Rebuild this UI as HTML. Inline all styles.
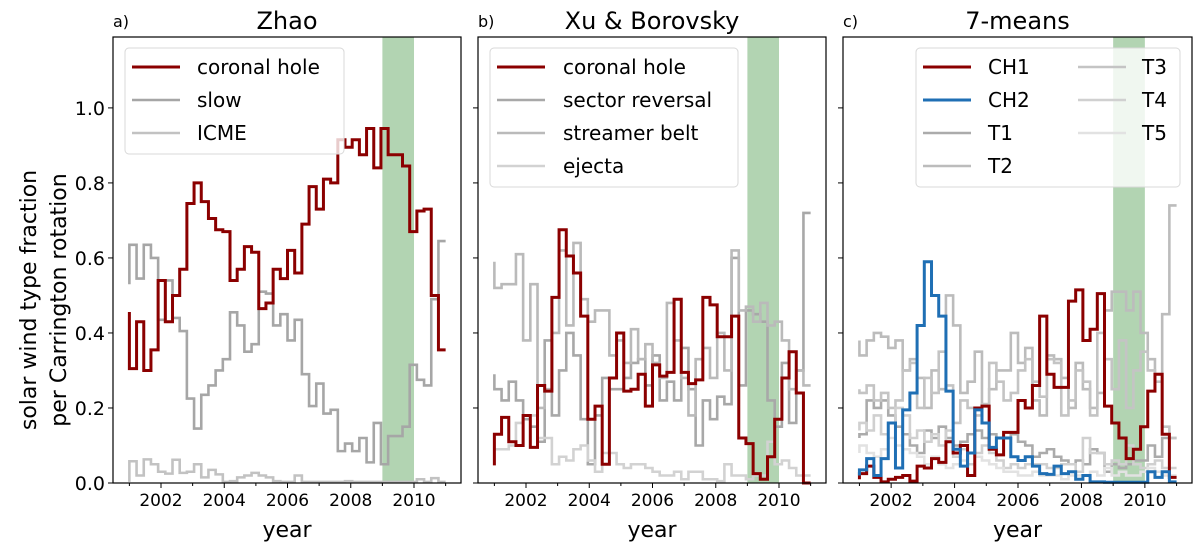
<!DOCTYPE html>
<html><head><meta charset="utf-8">
<style>
html,body{margin:0;padding:0;background:#fff;}
svg{display:block;font-family:"DejaVu Sans","Liberation Sans",sans-serif;}
</style></head>
<body>
<svg id="fig" width="1200" height="551" viewBox="0 0 1200 551" xmlns="http://www.w3.org/2000/svg">
  <g transform="translate(42,300) rotate(-90)" font-size="22" text-anchor="middle" fill="#000">
    <text x="0" y="-6">solar wind type fraction</text>
    <text x="0" y="24">per Carrington rotation</text>
  </g>
</svg>
<script>
// ---- data ----
const startYear = 2001;
const endYear = 2011;
const nBins = 44;
const yTicks = [0.0, 0.2, 0.4, 0.6, 0.8, 1.0];
const yTickLabels = ["0.0", "0.2", "0.4", "0.6", "0.8", "1.0"];
const xTicksMajor = [2002, 2004, 2006, 2008, 2010];
const xTicksMinor = [2001, 2003, 2005, 2007, 2009, 2011];
const shadeRange = [2009, 2010];

const zhaoCH = [0.456, 0.305,0.43,0.30,0.355,0.54,0.43,0.50,0.57,0.745,0.80, 0.75,0.705,0.675,0.67,0.54,0.57,0.63,0.615,0.465,0.48, 0.57,0.545,0.62,0.56,0.69,0.79,0.73,0.81,0.80,0.915, 0.895,0.915,0.875,0.945,0.84,0.945,0.875,0.875,0.845,0.67, 0.725,0.73,0.50,0.355];
const zhaoSlow = [0.53, 0.635,0.545,0.635,0.60,0.435,0.54,0.44,0.405,0.225,0.145, 0.235,0.26,0.30,0.33,0.455,0.42,0.35,0.37,0.51,0.505, 0.42,0.45,0.38,0.435,0.29,0.205,0.265,0.185,0.195,0.085, 0.105,0.085,0.12,0.055,0.16,0.05,0.125,0.125,0.15,0.315, 0.275,0.26,0.49,0.645];
const zhaoICME = [0.003, 0.058,0.02,0.063,0.05,0.03,0.025,0.062,0.027,0.03,0.05, 0.015,0.035,0.023,0.003,0.005,0.015,0.02,0.027,0.02,0.015, 0.005,0.003,0.003,0.02,0.003,0.003,0.003,0.003,0.003,0.003, 0.005,0.003,0.003,0.003,0.003,0.003,0.003,0.003,0.003,0.003, 0.01,0.003,0.013,0.003];

const xbCH = [0.047, 0.13,0.175,0.11,0.10,0.18,0.095,0.26,0.245,0.495,0.675, 0.605,0.56,0.445,0.17,0.205,0.05,0.28,0.40,0.245,0.25, 0.29,0.205,0.315,0.285,0.295,0.49,0.295,0.265,0.275,0.495, 0.475,0.39,0.39,0.445,0.12,0.105,0.025,0.01,0.07,0.17, 0.28,0.35,0.24,0.0];
const xbSector = [0.29, 0.25,0.22,0.27,0.22,0.17,0.15,0.11,0.38,0.18,0.30, 0.40,0.34,0.17,0.05,0.18,0.28,0.25,0.25,0.28,0.32, 0.33,0.26,0.34,0.22,0.27,0.22,0.36,0.25,0.10,0.22, 0.17,0.23,0.21,0.60,0.26,0.46,0.45,0.43,0.22,0.15, 0.32,0.16,0.30,0.72];
const xbStreamer = [0.59, 0.52,0.53,0.53,0.61,0.38,0.53,0.20,0.25,0.40,0.62, 0.42,0.64,0.49,0.43,0.46,0.46,0.34,0.38,0.32,0.41, 0.33,0.37,0.32,0.28,0.48,0.38,0.28,0.18,0.33,0.36, 0.28,0.40,0.30,0.62,0.46,0.47,0.43,0.48,0.42,0.43, 0.38,0.25,0.30,0.26];
const xbEjecta = [0.11, 0.09,0.09,0.10,0.16,0.18,0.18,0.12,0.12,0.05,0.07, 0.06,0.09,0.10,0.06,0.03,0.08,0.08,0.05,0.04,0.05, 0.05,0.04,0.03,0.02,0.02,0.03,0.01,0.03,0.03,0.01, 0.01,0.005,0.05,0.02,0.02,0.01,0.02,0.02,0.11,0.05, 0.06,0.04,0.02,0.02];

const kmCH1 = [0.01, 0.025,0.045,0.015,0.003,0.01,0.015,0.02,0.005,0.045,0.04, 0.065,0.055,0.11,0.08,0.10,0.02,0.20,0.205,0.09,0.075, 0.135,0.135,0.22,0.20,0.26,0.445,0.29,0.255,0.255,0.485, 0.515,0.38,0.41,0.505,0.205,0.16,0.12,0.065,0.09,0.15, 0.245,0.29,0.13,0.015];
const kmCH2 = [0.02, 0.035,0.065,0.02,0.065,0.16,0.04,0.195,0.24,0.42,0.59, 0.50,0.445,0.245,0.09,0.045,0.08,0.195,0.16,0.095,0.12, 0.12,0.07,0.06,0.07,0.045,0.025,0.023,0.045,0.025,0.03, 0.01,0.02,0.003,0.003,0.002,0.002,0.002,0.002,0.002,0.002, 0.03,0.015,0.03,0.003];
const kmT1 = [0.12, 0.13,0.22,0.20,0.22,0.18,0.15,0.13,0.10,0.08,0.14, 0.12,0.15,0.12,0.10,0.11,0.13,0.14,0.12,0.13,0.12, 0.12,0.13,0.11,0.10,0.07,0.08,0.09,0.07,0.06,0.05, 0.06,0.05,0.09,0.08,0.03,0.05,0.04,0.05,0.06,0.06, 0.10,0.07,0.12,0.12];
const kmT2 = [0.38, 0.34,0.38,0.40,0.39,0.36,0.38,0.30,0.33,0.28,0.20, 0.30,0.25,0.50,0.42,0.24,0.27,0.35,0.21,0.25,0.30, 0.30,0.40,0.32,0.36,0.22,0.18,0.34,0.33,0.28,0.20, 0.32,0.25,0.20,0.24,0.46,0.51,0.51,0.46,0.51,0.40, 0.33,0.29,0.45,0.74];
const kmT3 = [0.25, 0.24,0.26,0.22,0.24,0.20,0.22,0.30,0.32,0.20,0.28, 0.24,0.35,0.26,0.16,0.22,0.20,0.18,0.21,0.32,0.27, 0.22,0.24,0.30,0.33,0.27,0.23,0.33,0.32,0.18,0.22, 0.30,0.27,0.18,0.40,0.33,0.25,0.38,0.20,0.30,0.35, 0.30,0.27,0.15,0.12];
const kmT4 = [0.14, 0.16,0.14,0.18,0.13,0.16,0.20,0.18,0.12,0.14,0.11, 0.13,0.10,0.14,0.07,0.09,0.05,0.08,0.10,0.08,0.06, 0.04,0.05,0.04,0.05,0.05,0.05,0.04,0.04,0.05,0.05, 0.03,0.12,0.08,0.08,0.05,0.06,0.05,0.10,0.05,0.04, 0.05,0.06,0.04,0.04];
const kmT5 = [0.08, 0.10,0.08,0.07,0.09,0.12,0.10,0.09,0.08,0.07,0.05, 0.07,0.05,0.04,0.05,0.06,0.08,0.07,0.06,0.05,0.04, 0.03,0.03,0.02,0.02,0.03,0.02,0.02,0.02,0.01,0.02, 0.02,0.02,0.03,0.02,0.04,0.02,0.03,0.02,0.02,0.03, 0.04,0.03,0.02,0.02];

// ---- rendering ----
const NS = "http://www.w3.org/2000/svg";
const svg = document.getElementById("fig");
const XMIN = 2000.482, XMAX = 2011.486, YMIN = 0, YMAX = 1.189;
const TOP = 37, BOTTOM = 483;

function mk(tag, attrs, parent) {
  const e = document.createElementNS(NS, tag);
  for (const k in attrs) e.setAttribute(k, attrs[k]);
  (parent || svg).appendChild(e);
  return e;
}

function panel(cfg) {
  const L = cfg.left, W = cfg.width;
  const xs = v => L + (v - XMIN) / (XMAX - XMIN) * W;
  const ys = v => BOTTOM - (v - YMIN) / (YMAX - YMIN) * (BOTTOM - TOP);
  const g = mk("g", {});
  
  

  const shade = mk("rect", {x: xs(shadeRange[0]), y: TOP, width: xs(shadeRange[1]) - xs(shadeRange[0]), height: BOTTOM - TOP, fill: "#b2d4b2"}, g);
  
  

  const dt = (endYear - startYear) / nBins;
  // draw grays first, coloured on top
  const drawOrder = cfg.series.slice().sort((a, b) => (a.top ? 1 : 0) - (b.top ? 1 : 0));
  drawOrder.forEach(s => {
    const vals = s.data;
    let d = "M" + xs(startYear).toFixed(2) + "," + ys(vals[0]).toFixed(2);
    for (let k = 1; k < vals.length; k++) {
      d += " V" + ys(vals[k]).toFixed(2) + " H" + xs(startYear + k * dt).toFixed(2);
    }
    const p = mk("path", {d: d, fill: "none", stroke: s.color, "stroke-width": s.w || 2.6, "stroke-linejoin": "miter"}, g);
    
    
  });

  // legend
  const lg = mk("g", {}, g);
  
  
  mk("rect", {x: cfg.leg.x, y: 48, width: cfg.leg.w, height: cfg.leg.h, rx: 4, fill: "#fff", "fill-opacity": 0.8, stroke: "#d8d8d8", "stroke-width": 1}, lg);
  cfg.series.forEach((s, i) => {
    const col = cfg.leg.cols ? Math.floor(i / cfg.leg.rows) : 0;
    const row = cfg.leg.cols ? i % cfg.leg.rows : i;
    const lx = cfg.leg.lx[col], tx = cfg.leg.tx[col];
    const yy = 67 + row * 33;
    const ent = mk("g", {}, lg);
    
    
    mk("line", {x1: lx, x2: lx + 48, y1: yy, y2: yy, stroke: s.color, "stroke-width": s.w || 2.6}, ent);
    const t = mk("text", {x: tx, y: yy + 7, "font-size": 20, fill: "#000"}, ent);
    t.textContent = s.label;
  });

  // spines
  const fr = mk("rect", {x: L, y: TOP, width: W, height: BOTTOM - TOP, fill: "none", stroke: "#000", "stroke-width": 1.2}, g);
  
  

  yTicks.forEach((v, i) => {
    mk("line", {x1: L - 5, x2: L, y1: ys(v), y2: ys(v), stroke: "#000", "stroke-width": 1}, g);
    if (cfg.yLabels) {
      const t = mk("text", {x: L - 8, y: ys(v) + 7, "font-size": 19, "text-anchor": "end", fill: "#000"}, g);
      
      
      t.textContent = yTickLabels[i];
    }
  });
  xTicksMinor.forEach(v => mk("line", {x1: xs(v), x2: xs(v), y1: BOTTOM, y2: BOTTOM + 3, stroke: "#000", "stroke-width": 1}, g));
  xTicksMajor.forEach(v => {
    mk("line", {x1: xs(v), x2: xs(v), y1: BOTTOM, y2: BOTTOM + 5, stroke: "#000", "stroke-width": 1}, g);
    const t = mk("text", {x: xs(v), y: BOTTOM + 23, "font-size": 17, "text-anchor": "middle", fill: "#000"}, g);
    
    
    t.textContent = String(v);
  });
  const xl = mk("text", {x: L + W / 2, y: BOTTOM + 54, "font-size": 22, "text-anchor": "middle", fill: "#000"}, g);
  
  
  xl.textContent = "year";
  const ti = mk("text", {x: L + W / 2, y: 29, "font-size": 24, "text-anchor": "middle", fill: "#000"}, g);
  
  
  ti.textContent = cfg.title;
  const pl = mk("text", {x: L, y: 27, "font-size": 16, fill: "#000"}, g);
  
  
  pl.textContent = cfg.tag;
}

panel({name: "panel-zhao", left: 113, width: 348, title: "Zhao", tag: "a)", yLabels: true,
  leg: {x: 125, w: 219, h: 106, lx: [132], tx: [197]},
  series: [
    {id: "coronal-hole", label: "coronal hole", data: zhaoCH, color: "#8b0000", w: 3, top: true},
    {id: "slow", label: "slow", data: zhaoSlow, color: "#a6a6a6"},
    {id: "icme", label: "ICME", data: zhaoICME, color: "#c2c2c2"}
  ]});

panel({name: "panel-xu-borovsky", left: 478, width: 348, title: "Xu & Borovsky", tag: "b)",
  leg: {x: 490, w: 248, h: 139, lx: [497], tx: [563]},
  series: [
    {id: "coronal-hole", label: "coronal hole", data: xbCH, color: "#8b0000", w: 3, top: true},
    {id: "sector-reversal", label: "sector reversal", data: xbSector, color: "#a8a8a8"},
    {id: "streamer-belt", label: "streamer belt", data: xbStreamer, color: "#bababa"},
    {id: "ejecta", label: "ejecta", data: xbEjecta, color: "#d2d2d2"}
  ]});

panel({name: "panel-7-means", left: 843, width: 349, title: "7-means", tag: "c)",
  leg: {x: 916, w: 264, h: 139, lx: [923, 1078], tx: [988, 1142], cols: 2, rows: 4},
  series: [
    {id: "ch1", label: "CH1", data: kmCH1, color: "#8b0000", w: 3, top: true},
    {id: "ch2", label: "CH2", data: kmCH2, color: "#1f6fb4", w: 3, top: true},
    {id: "t1", label: "T1", data: kmT1, color: "#ababab"},
    {id: "t2", label: "T2", data: kmT2, color: "#bcbcbc"},
    {id: "t3", label: "T3", data: kmT3, color: "#c4c4c4"},
    {id: "t4", label: "T4", data: kmT4, color: "#d0d0d0"},
    {id: "t5", label: "T5", data: kmT5, color: "#e2e2e2"}
  ]});
</script>
</body></html>
